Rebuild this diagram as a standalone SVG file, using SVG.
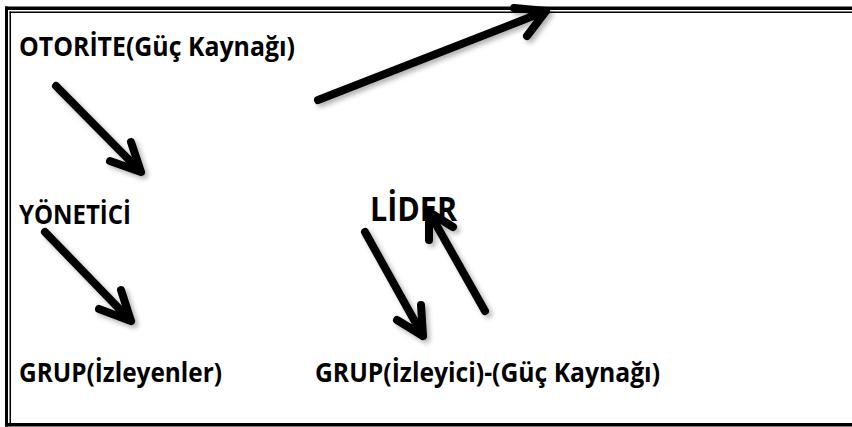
<svg xmlns="http://www.w3.org/2000/svg" width="852" height="427" viewBox="0 0 852 427">
  <defs>
    <filter id="soft-shadow" x="-20%" y="-20%" width="140%" height="140%">
      <feDropShadow dx="3" dy="3" stdDeviation="2.5" flood-color="#000" flood-opacity="0.3"/>
    </filter>
    <style>
      .label { font-family: "Open Sans", "Liberation Sans", sans-serif; font-weight: 700; fill: #000; }
      .small { font-size: 26px; }
      .big { font-size: 34px; }
      .arrow { fill: none; stroke: #000; stroke-width: 8; stroke-linecap: round; stroke-linejoin: round; }
      .frame { fill: #000; }
    </style>
  </defs>

  <rect width="852" height="427" fill="#fff"/>

  <!-- page border: thick outer line, thin inner line -->
  <g id="border">
    <rect class="frame" x="5" y="6.5" width="847" height="3.5"/>
    <rect class="frame" x="9.5" y="11.5" width="842.5" height="1.5"/>
    <rect class="frame" x="5" y="6.5" width="3" height="420"/>
    <rect class="frame" x="9.5" y="11.5" width="1.5" height="415"/>
    <rect class="frame" x="5" y="423" width="847" height="3.5"/>
  </g>

  <g id="node-otorite">
    <text class="label small" x="19" y="56" textLength="276" lengthAdjust="spacingAndGlyphs">OTORİTE(Güç Kaynağı)</text>
  </g>
  <g id="node-yonetici">
    <text class="label small" x="19" y="224" textLength="112" lengthAdjust="spacingAndGlyphs">YÖNETİCİ</text>
  </g>
  <g id="node-grup-izleyenler">
    <text class="label small" x="19" y="382" textLength="203" lengthAdjust="spacingAndGlyphs">GRUP(İzleyenler)</text>
  </g>
  <g id="node-lider">
    <text class="label big" x="370" y="221" textLength="87" lengthAdjust="spacingAndGlyphs">LİDER</text>
  </g>
  <g id="node-grup-izleyici">
    <text class="label small" x="315" y="382" textLength="345" lengthAdjust="spacingAndGlyphs">GRUP(İzleyici)-(Güç Kaynağı)</text>
  </g>

  <g id="connectors" filter="url(#soft-shadow)">
    <!-- OTORİTE -> YÖNETİCİ -->
    <path class="arrow" d="M56 86 L141 172 M131 142 L141 172 L110 161"/>
    <!-- YÖNETİCİ -> GRUP(İzleyenler) -->
    <path class="arrow" d="M45 232 L131 321 M121 290 L131 321 L99 309"/>
    <!-- OTORİTE -> up and out -->
    <path class="arrow" d="M318 100 L546 11 M514 8 L546 11 L527 36"/>
    <!-- LİDER -> GRUP(İzleyici) -->
    <path class="arrow" d="M365 232 L423 336 M421 305 L423 336 L397 320"/>
    <!-- GRUP(İzleyici) -> LİDER -->
    <path class="arrow" d="M485 311 L429 212 M429 240 L429 212 L453 227"/>
  </g>
</svg>
